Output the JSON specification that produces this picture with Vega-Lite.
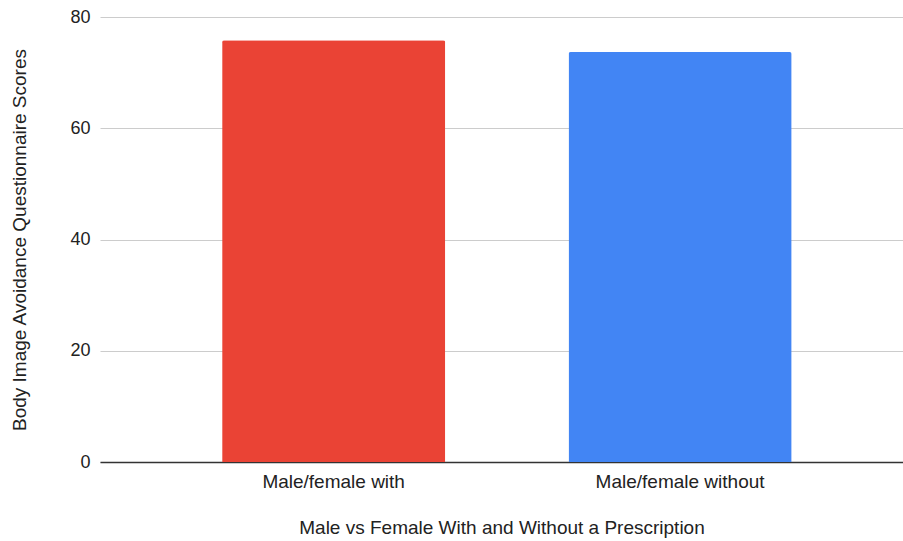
{
  "$schema": "https://vega.github.io/schema/vega-lite/v6.json",
  "width": 803,
  "height": 445,
  "autosize": {"type": "none"},
  "padding": {"left": 100, "top": 17, "right": 0, "bottom": 79},
  "background": "white",
  "config": {
    "font": "Liberation Sans",
    "view": {"stroke": null}
  },
  "data": {
    "values": [
      {"group": "Male/female with", "score": 75.8},
      {"group": "Male/female without", "score": 73.7}
    ]
  },
  "mark": {"type": "bar", "cornerRadiusTopLeft": 2, "cornerRadiusTopRight": 2},
  "encoding": {
    "x": {
      "field": "group",
      "type": "nominal",
      "sort": null,
      "scale": {"paddingInner": 0.356, "paddingOuter": 0.337, "align": 0.523},
      "title": "Male vs Female With and Without a Prescription",
      "axis": {
        "labelAngle": 0,
        "labelFontSize": 19,
        "labelColor": "#222222",
        "labelPadding": 10,
        "ticks": false,
        "domainColor": "#333333",
        "domainWidth": 1.5,
        "titleFontSize": 19,
        "titleFontWeight": "normal",
        "titleColor": "#222222",
        "titlePadding": 27
      }
    },
    "y": {
      "field": "score",
      "type": "quantitative",
      "scale": {"domain": [0, 80]},
      "title": "Body Image Avoidance Questionnaire Scores",
      "axis": {
        "values": [0, 20, 40, 60, 80],
        "labelFontSize": 18,
        "labelColor": "#222222",
        "labelPadding": 10,
        "ticks": false,
        "domain": false,
        "gridColor": "#cccccc",
        "gridWidth": 1,
        "titleFontSize": 19,
        "titleFontWeight": "normal",
        "titleColor": "#222222",
        "titlePadding": 40
      }
    },
    "color": {
      "field": "group",
      "type": "nominal",
      "scale": {"domain": ["Male/female with", "Male/female without"], "range": ["#EA4335", "#4285F4"]},
      "legend": null
    }
  }
}
